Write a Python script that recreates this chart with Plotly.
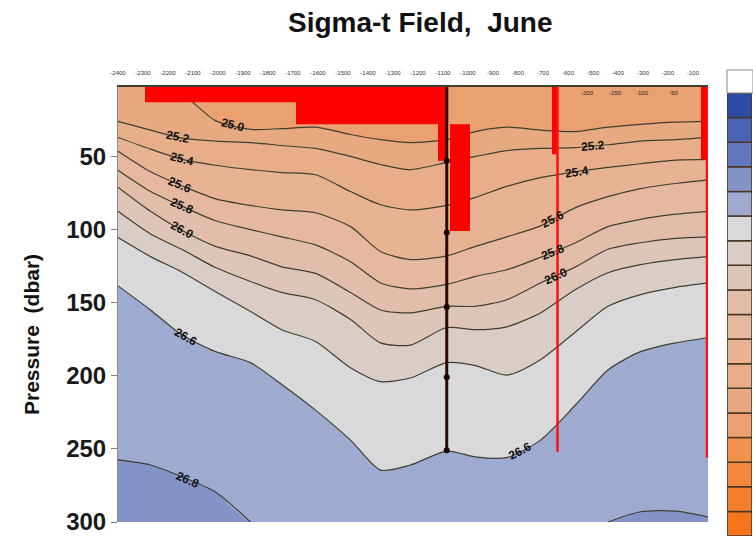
import math
import numpy as np
import plotly.graph_objects as go

# ---------------------------------------------------------------- data
# along-section distance of the CTD stations (km)
station_km = [-2400, -2270, -2145, -2010, -1870, -1745, -1610, -1470, -1350,
              -1230, -1085, -970, -845, -710, -570, -440, -310, -170, -40]

P_TOP = 2.5       # shallowest sampled pressure (dbar)
P_BOTTOM = 300.0  # deepest plotted pressure (dbar)

# pressure (dbar) of each sigma-t isopycnal at every station
sig_250 = [P_TOP, P_TOP, 7.5, 25.5, 31.5, 31, 30, 35, 38.5, 40.5, 38.5, 33, 30, 32, 33, 30, 28, 26.5, 26]
sig_252 = [26, 32, 37.5, 39.5, 40.5, 42.5, 44.5, 50, 55.5, 59, 54, 50, 46, 44.5, 44, 42, 39.5, 38.5, 37]
sig_254 = [37, 45, 52, 56, 59, 61, 62.5, 74, 83, 86.5, 83.5, 78, 70.5, 64.5, 60.5, 57.5, 55, 52.5, 52]
sig_256 = [46.5, 60.5, 70, 79, 83.5, 86.5, 88.5, 98, 115, 120.5, 118, 111.5, 105, 97.5, 85, 77.5, 72, 68.5, 66]
sig_258 = [59.5, 74, 84, 94, 100, 105, 110.5, 122, 136.5, 140.5, 137.5, 132, 127.5, 119, 109, 98, 93, 89.5, 87.5]
sig_260 = [71, 87.5, 100.5, 111.5, 118, 125.5, 130, 143, 155, 157, 152.5, 152.5, 148, 136.5, 125.5, 113.5, 109, 106, 105]
sig_262 = [87.5, 103, 113.5, 126, 135.5, 143, 148, 161.5, 177.5, 179, 167, 168.5, 166.5, 157, 141, 129.5, 124, 120.5, 118.5]
sig_264 = [105.5, 118.5, 129, 142.5, 156, 168.5, 176.5, 194.5, 204, 201.5, 191, 193, 199.5, 189, 170, 152.5, 144.5, 139.5, 136.5]
sig_266 = [138.5, 155, 172, 183.5, 191, 206, 223.5, 244, 264.5, 261, 251.5, 255.5, 256, 244, 220, 196, 183.5, 177.5, 174]
sig_268 = [257.5, 261, 269, 279.5, P_BOTTOM, P_BOTTOM, P_BOTTOM, P_BOTTOM, P_BOTTOM, P_BOTTOM,
           P_BOTTOM, P_BOTTOM, P_BOTTOM, P_BOTTOM, P_BOTTOM, P_BOTTOM, 293, 292.5, 296.5]

contour_levels = [25.0, 25.2, 25.4, 25.6, 25.8, 26.0, 26.2, 26.4, 26.6, 26.8]
isopycnal_depths = [sig_250, sig_252, sig_254, sig_256, sig_258,
                    sig_260, sig_262, sig_264, sig_266, sig_268]

# colour scale: lower bound of each 0.2 band and its colour
band_lower = [24.0, 24.2, 24.4, 24.6, 24.8, 25.0, 25.2, 25.4, 25.6,
              25.8, 26.0, 26.2, 26.4, 26.6, 26.8, 27.0, 27.2, 27.4]
band_colors = ["#F5741C", "#F57E2C", "#F3883C", "#F0914C", "#EBA071", "#E7A97F",
               "#E7AE89", "#E7B393", "#E5B89F", "#E2BEAA", "#DEC5B8", "#DACDC8",
               "#D9D9DC", "#9FAAD1", "#8394C9", "#6478C0", "#4862B6", "#2C4CA6"]
BAND_STEP = 0.2

# contour labels: level and along-section position (km)
label_level = [25.0, 25.2, 25.2, 25.4, 25.4, 25.6, 25.6, 25.8, 25.8, 26.0, 26.0, 26.6, 26.6, 26.8]
label_km = [-1940, -2160, -500, -2144, -565, -2152, -660, -2144, -660, -2144, -648, -2128, -792, -2120]

# flagged (red) blocks: km0, km1, p0, p1
flag_x0 = [-2292, -1688, -1120, -1072, -664, -68]
flag_x1 = [-1085, -1085, -1085, -992, -640, -40]
flag_p0 = [P_TOP, P_TOP, P_TOP, 28, P_TOP, P_TOP]
flag_p1 = [13, 28, 53, 101, 48.5, 52]
# flagged (red) profiles: km and deepest pressure
flag_line_km = [-642, -44]
flag_line_pmax = [252, 256]

# reference cast and its bottle depths
cast_km = -1085
cast_bottles = [53, 102, 153, 201, 251]

# top-axis and inner labels
top_ticks = list(range(-2400, -40, 100))
inner_km = [-524, -412, -304, -180]
inner_text = ["-200", "-150", "-100", "-50"]

# ---------------------------------------------------------------- layout geometry
W, H = 753, 536
PLOT_L, PLOT_R, PLOT_T, PLOT_B = 118, 708, 87, 522
CB_L, CB_R, CB_T = 727, 752, 93
FONT = "Liberation Sans, Arial, sans-serif"
LINE_COLOR = "#3f3f30"


def band_color(lower):
    return band_colors[int(round((lower - band_lower[0]) / BAND_STEP))]


fig = go.Figure()
spline = dict(shape="spline", smoothing=0.7, width=0)

# surface boundary
fig.add_trace(go.Scatter(x=station_km, y=[P_TOP] * len(station_km), mode="lines",
                         line=spline, hoverinfo="skip"))
# filled bands between consecutive isopycnals
for lev, depths in zip(contour_levels, isopycnal_depths):
    fig.add_trace(go.Scatter(x=station_km, y=depths, mode="lines", line=spline,
                             fill="tonexty", fillcolor=band_color(lev - BAND_STEP),
                             hoverinfo="skip"))
# densest band down to the bottom
fig.add_trace(go.Scatter(x=station_km, y=[P_BOTTOM] * len(station_km), mode="lines",
                         line=spline, fill="tonexty",
                         fillcolor=band_color(contour_levels[-1]), hoverinfo="skip"))

# isopycnal lines (hidden where they lie on the surface or the bottom)
for depths in isopycnal_depths:
    inside = [P_TOP < d < P_BOTTOM for d in depths]
    shown = []
    for i, d in enumerate(depths):
        near = inside[i] or (i > 0 and inside[i - 1]) or (i + 1 < len(depths) and inside[i + 1])
        shown.append(d if near else None)
    fig.add_trace(go.Scatter(x=station_km, y=shown, mode="lines",
                             line=dict(color=LINE_COLOR, width=1.2, shape="spline", smoothing=0.7),
                             connectgaps=False, hoverinfo="skip"))

# flagged blocks and profiles
for x0, x1, p0, p1 in zip(flag_x0, flag_x1, flag_p0, flag_p1):
    fig.add_trace(go.Scatter(x=[x0, x1, x1, x0, x0], y=[p0, p0, p1, p1, p0], mode="lines",
                             fill="toself", fillcolor="#FF0000", line=dict(width=0),
                             hoverinfo="skip"))
for xk, pm in zip(flag_line_km, flag_line_pmax):
    fig.add_trace(go.Scatter(x=[xk, xk], y=[P_TOP, pm], mode="lines",
                             line=dict(color="#FF1010", width=2.5), hoverinfo="skip"))

# reference cast
fig.add_trace(go.Scatter(x=[cast_km] * 2, y=[P_TOP, cast_bottles[-1]], mode="lines",
                         line=dict(color="#2E0808", width=3), hoverinfo="skip"))
fig.add_trace(go.Scatter(x=[cast_km] * len(cast_bottles), y=cast_bottles, mode="markers",
                         marker=dict(color="#1A0404", size=6), hoverinfo="skip"))

# colour scale bar
fig.add_trace(go.Bar(x=[0] * len(band_lower), y=[BAND_STEP] * len(band_lower), base=band_lower,
                     width=[1] * len(band_lower),
                     marker=dict(color=band_colors, line=dict(color="#4a3626", width=1.5)),
                     xaxis="x2", yaxis="y2", hoverinfo="skip"))

# contour labels, rotated along the local slope of their isopycnal
px_per_km = (PLOT_R - PLOT_L) / (station_km[-1] - station_km[0])
px_per_dbar = (PLOT_B - PLOT_T) / (P_BOTTOM - P_TOP)
annotations = []
for lev, xk in zip(label_level, label_km):
    depths = isopycnal_depths[contour_levels.index(lev)]
    p = float(np.interp(xk, station_km, depths))
    dp = float(np.interp(xk + 40, station_km, depths) - np.interp(xk - 40, station_km, depths))
    ang = math.degrees(math.atan2(dp * px_per_dbar, 80 * px_per_km))
    annotations.append(dict(x=xk, y=p, xref="x", yref="y", text=f"{lev:.1f}", showarrow=False,
                            textangle=ang, xanchor="center", yanchor="middle",
                            font=dict(family=FONT, size=12, color="#111111", weight="bold")))
for xk, t in zip(inner_km, inner_text):
    annotations.append(dict(x=xk, y=P_TOP + 4, xref="x", yref="y", text=t, showarrow=False,
                            font=dict(family=FONT, size=6, color="#222222")))

annotations.append(dict(x=420 / W, y=1 - 23 / H, xref="paper", yref="paper",
                        xanchor="center", yanchor="middle",
                        text="Sigma-t Field,\u00a0 June", showarrow=False,
                        font=dict(family=FONT, size=28, color="#111111", weight="bold")))
annotations.append(dict(x=31 / W, y=1 - 335 / H, xref="paper", yref="paper",
                        xanchor="center", yanchor="middle",
                        text="Pressure\u00a0 (dbar)", showarrow=False, textangle=-90,
                        font=dict(family=FONT, size=21, color="#111111", weight="bold")))

fig.update_layout(
    width=W, height=H, margin=dict(l=0, r=0, t=0, b=0),
    paper_bgcolor="white", plot_bgcolor="white", showlegend=False,
    template="none", barmode="overlay",
    xaxis=dict(domain=[PLOT_L / W, PLOT_R / W], range=[station_km[0], station_km[-1]],
               side="top", tickvals=top_ticks, ticktext=[str(v) for v in top_ticks],
               tickfont=dict(family=FONT, size=6, color="#333333"), ticks="",
               ticklabelstandoff=8, showline=True, linecolor=LINE_COLOR, linewidth=1.5,
               showgrid=False, zeroline=False, automargin=False, anchor="y"),
    yaxis=dict(domain=[(H - PLOT_B) / H, (H - PLOT_T) / H], range=[P_BOTTOM, P_TOP],
               tickvals=[50, 100, 150, 200, 250, 300],
               tickfont=dict(family=FONT, size=24, color="#1a1a1a", weight="bold"),
               ticks="outside", ticklen=6, tickcolor="#808080", showline=True,
               linecolor="#8a8a8a", linewidth=1, showgrid=False, zeroline=False,
               automargin=False, anchor="x"),
    xaxis2=dict(domain=[CB_L / W, CB_R / W], range=[-0.5, 0.5], visible=False, anchor="y2"),
    yaxis2=dict(domain=[0, (H - CB_T) / H], range=[band_lower[0], band_lower[-1] + BAND_STEP],
                visible=False, anchor="x2"),
    annotations=annotations,
    shapes=[dict(type="rect", xref="paper", yref="paper", x0=CB_L / W, x1=1.0,
                 y0=(H - CB_T) / H, y1=(H - 70) / H, line=dict(color="#8a8a8a", width=1))],
)

fig.write_html("out.html")
